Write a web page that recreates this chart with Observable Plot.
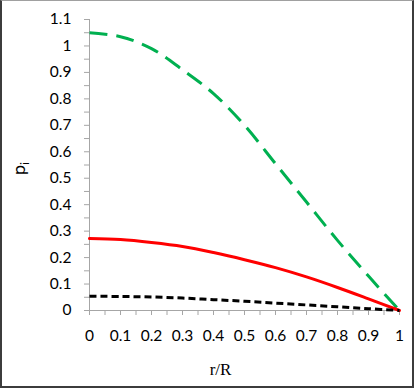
<!DOCTYPE html>
<html>
<head>
<meta charset="utf-8">
<script src="https://cdn.jsdelivr.net/npm/d3@7"></script>
<script src="https://cdn.jsdelivr.net/npm/@observablehq/plot@0.6"></script>
<style>
  html, body { margin: 0; padding: 0; background: #fff; }
  #wrap { position: relative; width: 415px; height: 390px; }
  #wrap svg { position: absolute; left: 0; top: 0; }
  #frame {
    position: absolute; left: 0; top: 0; width: 414px; height: 388px;
    box-sizing: border-box; pointer-events: none;
    border-top: 1px solid #a0a0a0;
    border-left: 2px solid #3c3c3c;
    border-right: 2px solid #3c3c3c;
    border-bottom: 2px solid #3c3c3c;
  }
</style>
</head>
<body>
<div id="wrap"><div id="frame"></div></div>
<script>
// r/R positions
const rR = [0, 0.1, 0.2, 0.3, 0.4, 0.5, 0.6, 0.7, 0.8, 0.9, 1];
// series values
const greenSeries = [1.05, 1.035, 0.99, 0.91, 0.82, 0.70, 0.555, 0.41, 0.265, 0.13, 0];
const redSeries   = [0.272, 0.268, 0.257, 0.242, 0.219, 0.192, 0.162, 0.127, 0.087, 0.044, 0];
const blackSeries = [0.054, 0.053, 0.051, 0.047, 0.041, 0.035, 0.028, 0.021, 0.014, 0.007, 0];
// tick labels
const xTickValues = [0, 0.1, 0.2, 0.3, 0.4, 0.5, 0.6, 0.7, 0.8, 0.9, 1];
const xTickLabels = ["0", "0.1", "0.2", "0.3", "0.4", "0.5", "0.6", "0.7", "0.8", "0.9", "1"];
const yTickValues = [0, 0.1, 0.2, 0.3, 0.4, 0.5, 0.6, 0.7, 0.8, 0.9, 1, 1.1];
const yTickLabels = ["0", "0.1", "0.2", "0.3", "0.4", "0.5", "0.6", "0.7", "0.8", "0.9", "1", "1.1"];
const xMinorTicks = [0, 0.05, 0.1, 0.15, 0.2, 0.25, 0.3, 0.35, 0.4, 0.45, 0.5, 0.55, 0.6, 0.65, 0.7, 0.75, 0.8, 0.85, 0.9, 0.95, 1];
const yMinorTicks = [0, 0.05, 0.1, 0.15, 0.2, 0.25, 0.3, 0.35, 0.4, 0.45, 0.5, 0.55, 0.6, 0.65, 0.7, 0.75, 0.8, 0.85, 0.9, 0.95, 1, 1.05, 1.1];

const toRows = (vals) => rR.map((r, i) => ({r, p: vals[i]}));
const green = toRows(greenSeries), red = toRows(redSeries), black = toRows(blackSeries);

const axisColor = "#a6a6a6";
const fmtX = d => xTickLabels[xTickValues.findIndex(v => Math.abs(v - d) < 1e-9)];
const fmtY = d => yTickLabels[yTickValues.findIndex(v => Math.abs(v - d) < 1e-9)];

const chart = Plot.plot({
  width: 415, height: 390,
  marginLeft: 89, marginRight: 16, marginTop: 19, marginBottom: 80,
  x: {domain: [0, 1]},
  y: {domain: [0, 1.1]},
  style: {fontFamily: "Lato, 'Open Sans', sans-serif", fontSize: "15.5px", color: "#000", background: "transparent", overflow: "visible"},
  marks: [
    Plot.axisX(xMinorTicks, {tickSize: 5, tickFormat: () => "", stroke: axisColor, label: null}),
    Plot.axisY(yMinorTicks, {tickSize: 5, tickFormat: () => "", stroke: axisColor, label: null}),
    Plot.axisX(xTickValues, {tickSize: 0, tickPadding: 19, tickFormat: fmtX, fill: "#000", fontSize: 15.5, label: null}),
    Plot.axisY(yTickValues, {tickSize: 0, tickPadding: 18, tickFormat: fmtY, fill: "#000", fontSize: 15.5, label: null}),
    Plot.ruleY([0], {stroke: axisColor, strokeWidth: 1}),
    Plot.ruleX([0], {stroke: axisColor, strokeWidth: 1}),
    Plot.line(green, {x: "r", y: "p", stroke: "#00b050", strokeWidth: 3, strokeDasharray: "18,9", strokeLinecap: "butt", curve: "catmull-rom"}),
    Plot.line(red, {x: "r", y: "p", stroke: "#ff0000", strokeWidth: 3, curve: "catmull-rom"}),
    Plot.line(black, {x: "r", y: "p", stroke: "#000000", strokeWidth: 3, strokeDasharray: "7,4", strokeLinecap: "butt", curve: "catmull-rom"}),
    Plot.text(["r/R"], {frameAnchor: "bottom", dx: -24, dy: 64, fontFamily: "'Liberation Serif', serif", fontSize: 17, fill: "#000"}),
    Plot.text(["p"], {frameAnchor: "left", dx: -70, dy: 10, rotate: -90, fontFamily: "Lato, sans-serif", fontSize: 18, fill: "#000"})
  ]
});

d3.select(chart).selectAll("text").filter(function() { return this.textContent === "p"; })
  .append("tspan").attr("dy", "0.3em").attr("font-size", 12).text("i");

document.getElementById("wrap").insertBefore(chart, document.getElementById("frame"));
</script>
</body>
</html>
